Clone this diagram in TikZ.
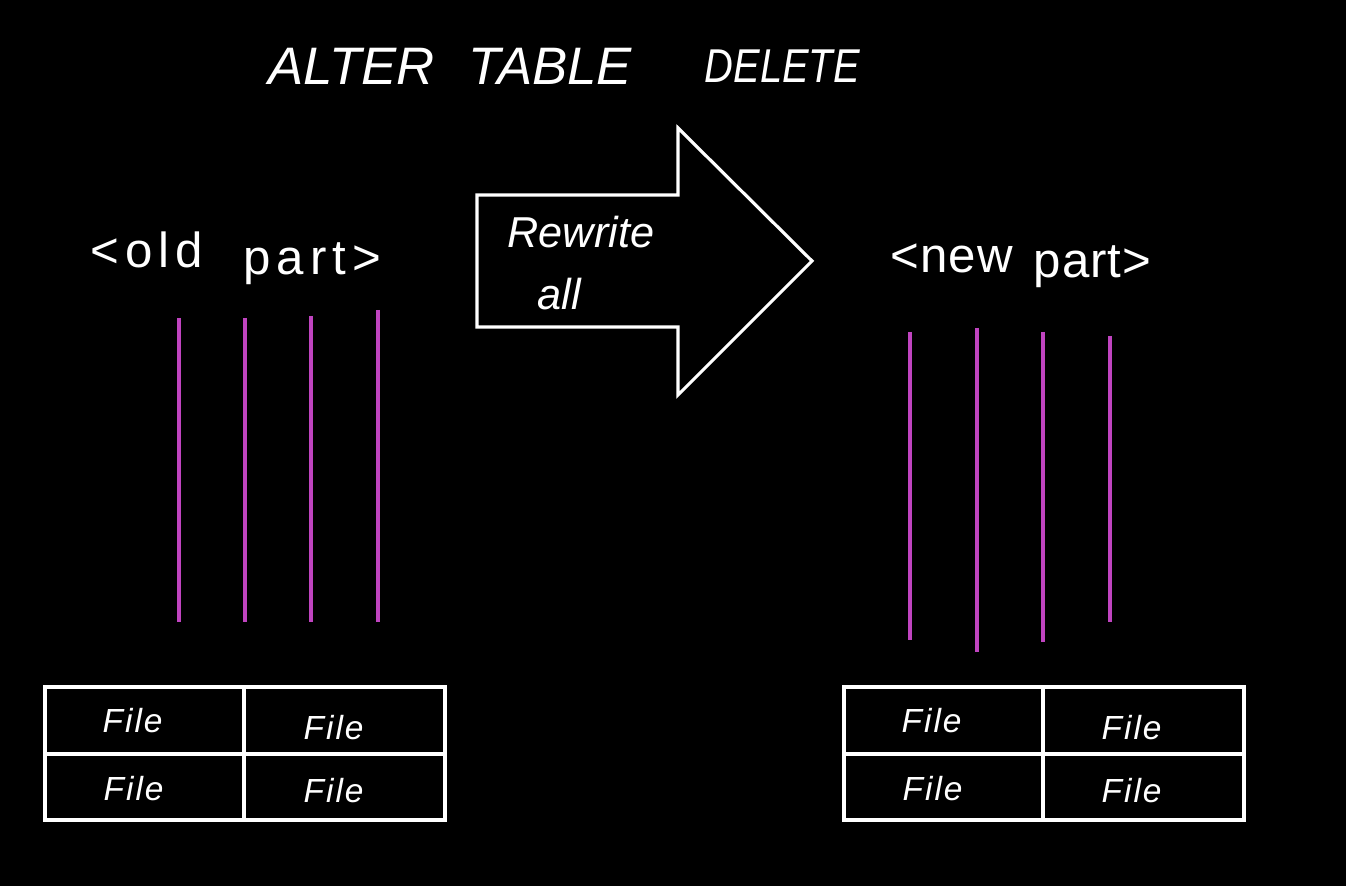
\documentclass[tikz,border=0pt]{standalone}
\usepackage{fontspec}
\setmainfont{Liberation Sans}
\newfontfamily\spacedold[LetterSpace=12]{Liberation Sans}
\newfontfamily\spacednew[LetterSpace=2]{Liberation Sans}
\newfontfamily\filefont[LetterSpace=6]{Liberation Sans}
\begin{document}
\begin{tikzpicture}[x=0.01cm,y=-0.01cm,
  chalk/.style={draw=white,line width=0.9pt},
  bar/.style={draw=barmag,line width=1.2pt},
  hand/.style={text=white,inner sep=0pt,anchor=base west},
  titlelbl/.style={hand,font=\itshape\fontsize{15}{18}\selectfont},
  arrowlbl/.style={hand,font=\itshape\fontsize{12.3}{15}\selectfont},
  oldlbl/.style={hand,font=\spacedold\fontsize{14}{16}\selectfont},
  newlbl/.style={hand,font=\spacednew\fontsize{14}{16}\selectfont},
  filelbl/.style={hand,font=\filefont\itshape\fontsize{9.5}{12}\selectfont}]
\definecolor{barmag}{HTML}{C044C0}
\fill[black] (0,0) rectangle (1346,886);
\useasboundingbox (0,0) rectangle (1346,886);
% title
\node[titlelbl] (t1) at (268,85) {ALTER};
\node[titlelbl] (t2) at (468,85) {TABLE};
\node[titlelbl,font=\itshape\fontsize{13.5}{16}\selectfont] (t3) at (704,83) {\scalebox{0.84}[1]{DELETE}};
% arrow
\draw[chalk,line join=miter] (477,195) -- (678,195) -- (678,128) -- (812,261) -- (678,395) -- (678,327) -- (477,327) -- cycle;
\node[arrowlbl] (rw) at (507,248) {Rewrite};
\node[arrowlbl] (all) at (537,310) {all};
% part labels
\node[oldlbl] (old1) at (90,268) {<old};
\node[oldlbl] (old2) at (243,275) {part>};
\node[newlbl] (new1) at (890,273) {<new};
\node[newlbl] (new2) at (1033,278) {part>};
% bars left
\draw[bar] (179,318) -- (179,622);
\draw[bar] (245,318) -- (245,622);
\draw[bar] (311,316) -- (311,622);
\draw[bar] (378,310) -- (378,622);
% bars right
\draw[bar] (910,332) -- (910,640);
\draw[bar] (977,328) -- (977,652);
\draw[bar] (1043,332) -- (1043,642);
\draw[bar] (1110,336) -- (1110,622);
% left table
\draw[chalk] (45,687) rectangle (445,820);
\draw[chalk] (244,687) -- (244,820);
\draw[chalk] (45,754) -- (445,754);
\node[filelbl] (f1) at (102,732) {File};
\node[filelbl] (f2) at (303,740) {File};
\node[filelbl] (f3) at (103,800) {File};
\node[filelbl] (f4) at (303,802) {File};
% right table
\draw[chalk] (844,687) rectangle (1244,820);
\draw[chalk] (1043,687) -- (1043,820);
\draw[chalk] (844,754) -- (1244,754);
\node[filelbl] (f5) at (901,732) {File};
\node[filelbl] (f6) at (1101,740) {File};
\node[filelbl] (f7) at (902,800) {File};
\node[filelbl] (f8) at (1101,802) {File};
\end{tikzpicture}
\end{document}
